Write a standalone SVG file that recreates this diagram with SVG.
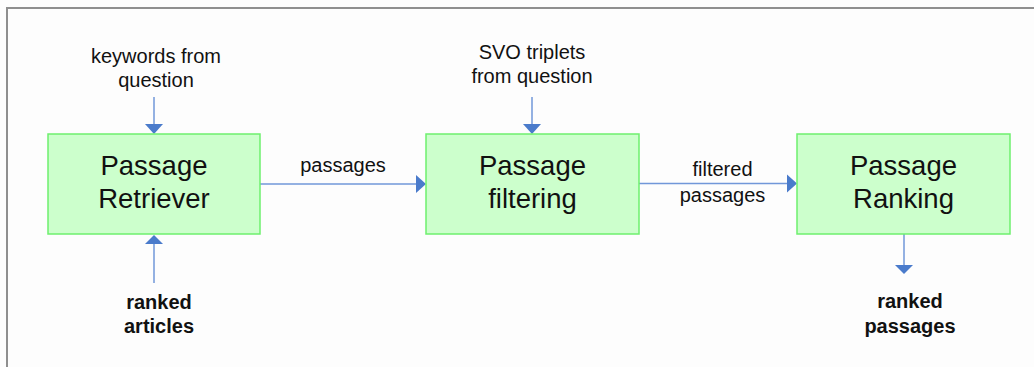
<svg xmlns="http://www.w3.org/2000/svg" width="1034" height="367" viewBox="0 0 1034 367">
  <style>
    .box { fill: #ccffcc; stroke: #6ef06e; stroke-width: 1.5; }
    .title { font-family: "Liberation Sans", Arial, sans-serif; font-size: 27.5px; fill: #111; text-anchor: middle; }
    .lbl { font-family: "Liberation Sans", Arial, sans-serif; font-size: 20px; fill: #111; text-anchor: middle; }
    .bold { font-weight: bold; }
    .conn { stroke: #7197d9; stroke-width: 1.5; fill: none; }
    .head { fill: #4a7bcb; }
  </style>
  <rect x="0" y="0" width="1034" height="367" fill="#fdfdfd"/>
  <path d="M7 367 V8 H1034" fill="none" stroke="#8f8f8f" stroke-width="2"/>

  <g id="connectors">
    <!-- keywords -> retriever -->
    <line class="conn" x1="154" y1="97" x2="154" y2="125"/>
    <polygon class="head" points="145,124 163,124 154,134"/>
    <!-- ranked articles -> retriever -->
    <line class="conn" x1="154" y1="283" x2="154" y2="243"/>
    <polygon class="head" points="145,244 163,244 154,235"/>
    <!-- retriever -> filtering -->
    <line class="conn" x1="260" y1="184" x2="417" y2="184"/>
    <polygon class="head" points="416,175 416,193 426,184"/>
    <!-- SVO -> filtering -->
    <line class="conn" x1="532" y1="97" x2="532" y2="125"/>
    <polygon class="head" points="523,124 541,124 532,134"/>
    <!-- filtering -> ranking -->
    <line class="conn" x1="639" y1="183.5" x2="788" y2="183.5"/>
    <polygon class="head" points="787,174.5 787,192.5 797,183.5"/>
    <!-- ranking -> ranked passages -->
    <line class="conn" x1="904" y1="234" x2="904" y2="266"/>
    <polygon class="head" points="895,265 913,265 904,274"/>
  </g>

  <g id="retriever">
    <rect class="box" x="48" y="134" width="212" height="100"/>
    <text class="title" x="154" y="175">Passage</text>
    <text class="title" x="154" y="208">Retriever</text>
  </g>
  <g id="filtering">
    <rect class="box" x="426" y="134" width="213" height="100"/>
    <text class="title" x="532.5" y="175">Passage</text>
    <text class="title" x="532.5" y="208">filtering</text>
  </g>
  <g id="ranking">
    <rect class="box" x="797" y="134" width="213" height="100"/>
    <text class="title" x="903.5" y="175">Passage</text>
    <text class="title" x="903.5" y="208">Ranking</text>
  </g>

  <g id="keywords">
    <text class="lbl" x="156" y="63">keywords from</text>
    <text class="lbl" x="156" y="87">question</text>
  </g>
  <g id="svo">
    <text class="lbl" x="532" y="59">SVO triplets</text>
    <text class="lbl" x="532" y="83">from question</text>
  </g>
  <g id="ranked-articles">
    <text class="lbl bold" x="159" y="309">ranked</text>
    <text class="lbl bold" x="159" y="333">articles</text>
  </g>
  <g id="ranked-passages">
    <text class="lbl bold" x="910" y="308">ranked</text>
    <text class="lbl bold" x="910" y="333">passages</text>
  </g>
  <g id="edge-labels">
    <text class="lbl" x="343" y="172">passages</text>
    <text class="lbl" x="722.5" y="176">filtered</text>
    <text class="lbl" x="722.5" y="202">passages</text>
  </g>
</svg>
